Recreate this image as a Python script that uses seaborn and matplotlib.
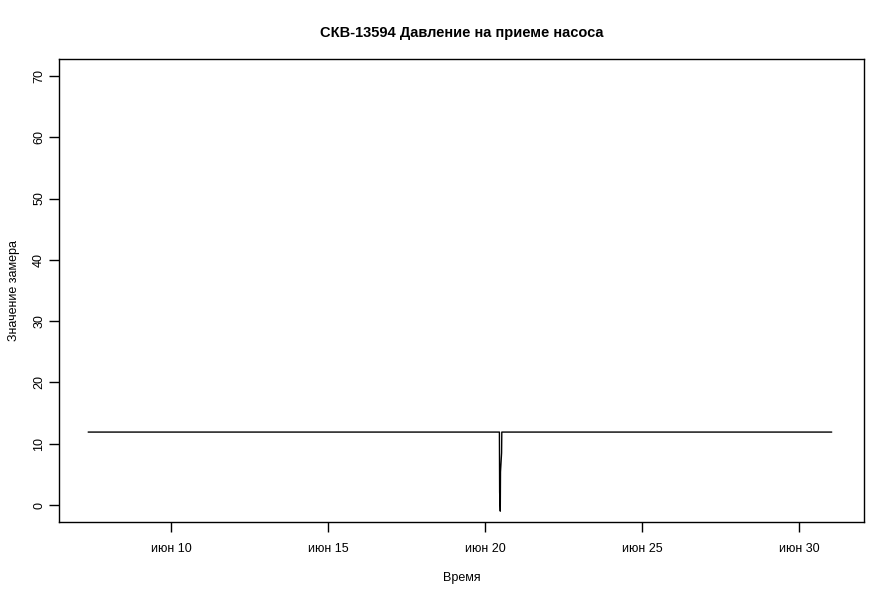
import pandas as pd
import matplotlib
matplotlib.use("Agg")
import matplotlib.pyplot as plt
import seaborn as sns

# Замеры давления на приеме насоса
times = ["2023-06-07 08:40", "2023-06-20 11:00", "2023-06-20 11:10",
         "2023-06-20 11:40", "2023-06-20 11:50", "2023-06-20 12:40",
         "2023-06-20 12:50", "2023-07-01 01:00"]
values = [11.9, 11.9, 2.1, -1.0, 5.4, 8.5, 11.9, 11.9]

tick_days = ["2023-06-10", "2023-06-15", "2023-06-20", "2023-06-25", "2023-06-30"]
tick_labels = ["июн 10", "июн 15", "июн 20", "июн 25", "июн 30"]
y_ticks = [0, 10, 20, 30, 40, 50, 60, 70]

df = pd.DataFrame({"time": pd.to_datetime(times), "value": values})

sns.set_style("ticks")
plt.rcParams["font.family"] = ["Liberation Sans", "DejaVu Sans"]
plt.rcParams["text.color"] = "black"
plt.rcParams["axes.labelcolor"] = "black"

fig = plt.figure(figsize=(8.92, 5.96), dpi=100)
ax = fig.add_axes([59 / 892, 74 / 596, 805 / 892, 463 / 596])

sns.lineplot(data=df, x="time", y="value", ax=ax, color="black", linewidth=1)

ax.set_xlim(pd.Timestamp("2023-06-06 10:23"), pd.Timestamp("2023-07-02 01:40"))
ax.set_ylim(-2.77, 72.76)
ax.set_xticks(pd.to_datetime(tick_days))
ax.set_xticklabels(tick_labels)
ax.set_yticks(y_ticks)
ax.set_yticklabels([str(v) for v in y_ticks], rotation=90, va="center")

for s in ax.spines.values():
    s.set_visible(True)
    s.set_color("black")
    s.set_linewidth(1)

ax.tick_params(direction="out", length=7, width=1, colors="black", labelsize=9)
ax.tick_params(axis="x", pad=8)
ax.tick_params(axis="y", pad=3)
ax.set_xlabel("Время", fontsize=9, color="black")
ax.set_ylabel("Значение замера", fontsize=9, color="black")
ax.xaxis.set_label_coords(0.5, -0.107)
ax.yaxis.set_label_coords(-0.048, 0.5)
ax.set_title("СКВ-13594 Давление на приеме насоса", fontsize=10.5,
             fontweight="bold", pad=16, color="black")

fig.savefig("out.png", dpi=100, facecolor="white")
